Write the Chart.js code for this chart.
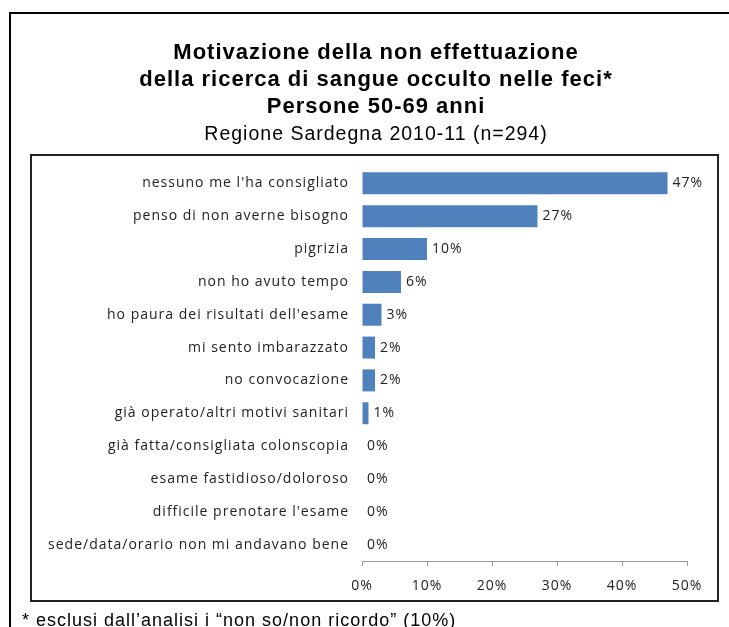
<!DOCTYPE html>
<html>
<head>
<meta charset="utf-8">
<script src="https://cdn.jsdelivr.net/npm/chart.js@4"></script>
<style>
  html, body { margin: 0; padding: 0; background: #fff; }
  #wrap { width: 729px; height: 627px; position: relative; }
</style>
</head>
<body>
<div id="wrap"><canvas id="chart" width="729" height="627"></canvas></div>
<script>
// categorie e valori (%)
const categories = [
  'nessuno me l\'ha consigliato',
  'penso di non averne bisogno',
  'pigrizia',
  'non ho avuto tempo',
  'ho paura dei risultati dell\'esame',
  'mi sento imbarazzato',
  'no convocazione',
  'già operato/altri motivi sanitari',
  'già fatta/consigliata colonscopia',
  'esame fastidioso/doloroso',
  'difficile prenotare l\'esame',
  'sede/data/orario non mi andavano bene'
];
const values = [47, 27, 10, 6, 3, 2, 2, 1, 0, 0, 0, 0];
const tickValues = [0, 10, 20, 30, 40, 50];

const titleLines = [
  'Motivazione della non effettuazione',
  'della ricerca di sangue occulto nelle feci*',
  'Persone 50-69 anni'
];
const subtitleText = 'Regione Sardegna 2010-11 (n=294)';
const footnote = '* esclusi dall\u2019analisi i \u201cnon so/non ricordo\u201d (10%)';

const labelFont = '"Open Sans", sans-serif';
const arial = 'Arial, "Liberation Sans", sans-serif';

// cornici, nota e etichette dei valori
const decorPlugin = {
  id: 'decor',
  afterLayout(chart) {
    // titolo centrato come nell'originale (non sull'intera tela)
    chart.boxes.forEach(b => {
      if (b.position === 'top' && b.fullSize) {
        b.left = 65;
        b.right = 687;
      }
    });
  },
  beforeDraw(chart) {
    const c = chart.ctx;
    // testo un po' spaziato come nell'originale
    c.letterSpacing = '1px';
    c.save();
    c.fillStyle = '#fff';
    c.fillRect(0, 0, chart.width, chart.height);
    c.fillStyle = '#000';
    c.fillRect(9, 12, chart.width - 9, 2);
    c.fillRect(9, 12, 2, chart.height - 12);
    c.strokeStyle = '#222';
    c.lineWidth = 2;
    c.strokeRect(31, 155, 687, 446);
    c.restore();
  },
  afterDatasetsDraw(chart) {
    const c = chart.ctx;
    const meta = chart.getDatasetMeta(0);
    c.save();
    c.fillStyle = '#222';
    c.font = '14px ' + labelFont;
    c.textBaseline = 'middle';
    c.textAlign = 'left';
    meta.data.forEach((bar, i) => {
      c.fillText(values[i] + '%', bar.x + 5, bar.y);
    });
    c.restore();
  },
  afterDraw(chart) {
    const c = chart.ctx;
    c.save();
    c.fillStyle = '#000';
    c.font = '18px ' + arial;
    c.textBaseline = 'alphabetic';
    c.textAlign = 'left';
    c.fillText(footnote, 22, 626);
    c.restore();
  }
};

const ctx = document.getElementById('chart').getContext('2d');
const chart = new Chart(ctx, {
  type: 'bar',
  data: {
    labels: categories,
    datasets: [{
      data: values,
      backgroundColor: '#4F81BD',
      borderWidth: 0,
      categoryPercentage: 1,
      barPercentage: 0.67
    }]
  },
  plugins: [decorPlugin],
  options: {
    indexAxis: 'y',
    responsive: false,
    animation: false,
    layout: { padding: { left: 30, right: 42, top: 0, bottom: 30 } },
    plugins: {
      legend: { display: false },
      tooltip: { enabled: false },
      title: {
        display: true,
        text: titleLines,
        color: '#000',
        font: { family: arial, size: 22, weight: 'bold', lineHeight: 27 / 22 },
        padding: { top: 39, bottom: 2 }
      },
      subtitle: {
        display: true,
        text: subtitleText,
        color: '#000',
        font: { family: arial, size: 19.5, weight: 'normal', lineHeight: 1.1 },
        padding: { top: 2, bottom: 21.5 }
      }
    },
    scales: {
      y: {
        afterFit(scale) { scale.width = 332; },
        grid: { display: false, drawTicks: false },
        border: { display: false },
        ticks: { color: '#222', padding: 13, autoSkip: false, font: { family: labelFont, size: 14 } }
      },
      x: {
        min: 0,
        max: 50,
        afterFit(scale) { scale.height = 36; },
        afterBuildTicks(scale) { scale.ticks = tickValues.map(v => ({ value: v })); },
        grid: { drawOnChartArea: false, drawTicks: true, tickLength: 5, color: '#999' },
        border: { display: true, color: '#999', width: 1 },
        ticks: {
          color: '#222',
          padding: 12,
          maxRotation: 0,
          font: { family: labelFont, size: 14 },
          callback: v => v + '%'
        }
      }
    }
  }
});
</script>
</body>
</html>
